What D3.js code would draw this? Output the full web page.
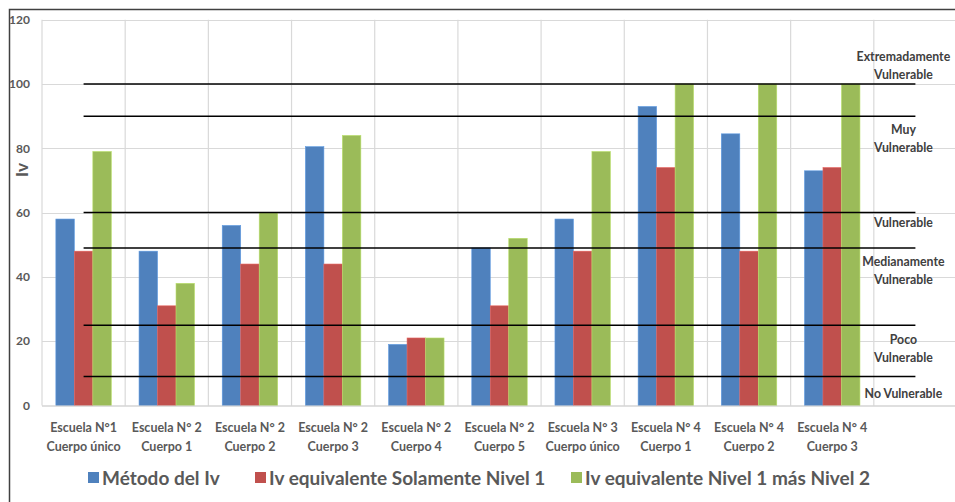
<!DOCTYPE html>
<html>
<head>
<meta charset="utf-8">
<script src="https://cdn.jsdelivr.net/npm/d3@7"></script>
<style>
  html, body { margin: 0; padding: 0; background: #fff; }
  svg { display: block; font-family: Lato, "Open Sans", sans-serif; }
</style>
</head>
<body>
<svg id="chart" width="955" height="502"></svg>
<script>
// Schools / building bodies (two-line labels)
const categories = [
  "Escuela N°1\nCuerpo único",
  "Escuela N° 2\nCuerpo 1",
  "Escuela N° 2\nCuerpo 2",
  "Escuela N° 2\nCuerpo 3",
  "Escuela N° 2\nCuerpo 4",
  "Escuela N° 2\nCuerpo 5",
  "Escuela N° 3\nCuerpo único",
  "Escuela N° 4\nCuerpo 1",
  "Escuela N° 4\nCuerpo 2",
  "Escuela N° 4\nCuerpo 3"
];

const seriesNames = [
  "Método del Iv",
  "Iv equivalente Solamente Nivel 1",
  "Iv equivalente Nivel 1 más Nivel 2"
];

const metodoIv      = [58, 48, 56, 80.5, 19, 49, 58, 93, 84.5, 73];
const soloNivel1    = [48, 31, 44, 44, 21, 31, 48, 74, 48, 74];
const nivel1y2      = [79, 38, 60, 84, 21, 52, 79, 100, 100, 100];

const yTicks = [0, 20, 40, 60, 80, 100, 120];

// Vulnerability thresholds drawn as horizontal reference lines
const thresholds = [100, 90, 60, 49, 25, 9];

// Zone names and the Iv value at which each is written
const zoneLabels = [
  "Extremadamente\nVulnerable",
  "Muy\nVulnerable",
  "Vulnerable",
  "Medianamente\nVulnerable",
  "Poco\nVulnerable",
  "No Vulnerable"
];
const zoneLabelValues = [105.6, 83.1, 56.9, 42, 17.8, 3.6];

const colors = ["#4f81bd", "#c0504d", "#9bbb59"];
const textColor = "#595959";

const svg = d3.select("#chart");

// Frame
svg.append("rect")
  .attr("x", 9.5).attr("y", 9.5)
  .attr("width", 960).attr("height", 510)
  .attr("fill", "none")
  .attr("stroke", "#404040")
  .attr("stroke-width", 1.5);

const plot = { left: 42, right: 957, top: 19.7, bottom: 405.5 };

// One extra empty slot on the right holds the zone labels
const slots = categories.map((c, i) => i).concat([categories.length]);

const x0 = d3.scaleBand()
  .domain(slots)
  .range([plot.left, plot.right])
  .paddingInner(0).paddingOuter(0);

const x1 = d3.scaleBand()
  .domain(d3.range(seriesNames.length))
  .range([0, x0.bandwidth()])
  .paddingInner(0)
  .paddingOuter(0.75);

const y = d3.scaleLinear().domain([0, 120]).range([plot.bottom, plot.top]);

// Horizontal gridlines
svg.append("g")
  .selectAll("line")
  .data(yTicks.filter(d => d > 0))
  .join("line")
  .attr("x1", plot.left).attr("x2", plot.right)
  .attr("y1", d => Math.round(y(d)) + 0.5).attr("y2", d => Math.round(y(d)) + 0.5)
  .attr("stroke", "#d9d9d9").attr("stroke-width", 1.2);

// Vertical gridlines at slot boundaries
svg.append("g")
  .selectAll("line")
  .data(slots)
  .join("line")
  .attr("x1", d => x0(d)).attr("x2", d => x0(d))
  .attr("y1", plot.top).attr("y2", plot.bottom)
  .attr("stroke", "#d9d9d9").attr("stroke-width", 1.2);

// Bars
const series = [metodoIv, soloNivel1, nivel1y2];
const barG = svg.append("g");
series.forEach((vals, s) => {
  barG.append("g")
    .selectAll("rect")
    .data(vals)
    .join("rect")
    .attr("x", (d, i) => x0(i) + x1(s))
    .attr("width", x1.bandwidth())
    .attr("y", d => y(d))
    .attr("height", d => y(0) - y(d))
    .attr("fill", colors[s])
    .attr("stroke", d3.color(colors[s]).brighter(0.5))
    .attr("stroke-width", 0.6);
});

// X axis baseline
svg.append("line")
  .attr("x1", plot.left).attr("x2", plot.right)
  .attr("y1", plot.bottom + 0.5).attr("y2", plot.bottom + 0.5)
  .attr("stroke", "#bfbfbf").attr("stroke-width", 1.2);

// Threshold lines, from the first slot centre to the last
const xStart = x0(slots[0]) + x0.bandwidth() / 2;
const xEnd = x0(slots[slots.length - 1]) + x0.bandwidth() / 2;
svg.append("g")
  .selectAll("line")
  .data(thresholds)
  .join("line")
  .attr("x1", xStart).attr("x2", xEnd)
  .attr("y1", d => y(d)).attr("y2", d => y(d))
  .attr("stroke", "#000").attr("stroke-width", 1.5);

// Y axis tick labels
svg.append("g")
  .selectAll("text")
  .data(yTicks)
  .join("text")
  .attr("x", 30)
  .attr("y", d => y(d))
  .attr("dy", "0.35em")
  .attr("text-anchor", "end")
  .attr("font-size", 12)
  .attr("font-weight", "bold")
  .attr("fill", textColor)
  .text(d => d);

// Y axis title
svg.append("text")
  .attr("transform", "translate(28,170) rotate(-90)")
  .attr("text-anchor", "middle")
  .attr("font-size", 17)
  .attr("font-weight", "bold")
  .attr("fill", textColor)
  .text("Iv");

// Category labels
svg.append("g")
  .selectAll("text")
  .data(categories)
  .join("text")
  .attr("text-anchor", "middle")
  .attr("font-size", 12.5)
  .attr("font-weight", "bold")
  .attr("fill", textColor)
  .each(function(d, i) {
    const lines = d.split("\n");
    d3.select(this).selectAll("tspan")
      .data(lines)
      .join("tspan")
      .attr("x", x0(i) + x0.bandwidth() / 2)
      .attr("y", (l, k) => 432 + k * 18.5)
      .text(l => l);
  });

// Zone labels in the extra slot
const zoneX = x0(slots[slots.length - 1]) + x0.bandwidth() / 2 - 12;
svg.append("g")
  .selectAll("text")
  .data(zoneLabels)
  .join("text")
  .attr("text-anchor", "middle")
  .attr("font-size", 12.3)
  .attr("font-weight", "bold")
  .attr("fill", "#404040")
  .each(function(d, i) {
    const lines = d.split("\n");
    const cy = y(zoneLabelValues[i]);
    const lh = 18;
    d3.select(this).selectAll("tspan")
      .data(lines)
      .join("tspan")
      .attr("x", zoneX)
      .attr("y", (l, k) => cy + (k - (lines.length - 1) / 2) * lh)
      .attr("dy", "0.35em")
      .text(l => l);
  });

// Legend
const legendX = [88, 255, 571];
const legend = svg.append("g");
seriesNames.forEach((name, s) => {
  legend.append("rect")
    .attr("x", legendX[s]).attr("y", 472)
    .attr("width", 11).attr("height", 11)
    .attr("fill", colors[s]);
  legend.append("text")
    .attr("x", legendX[s] + 14).attr("y", 478)
    .attr("dy", "0.35em")
    .attr("font-size", 19)
    .attr("font-weight", "bold")
    .attr("fill", textColor)
    .text(name);
});
</script>
</body>
</html>
